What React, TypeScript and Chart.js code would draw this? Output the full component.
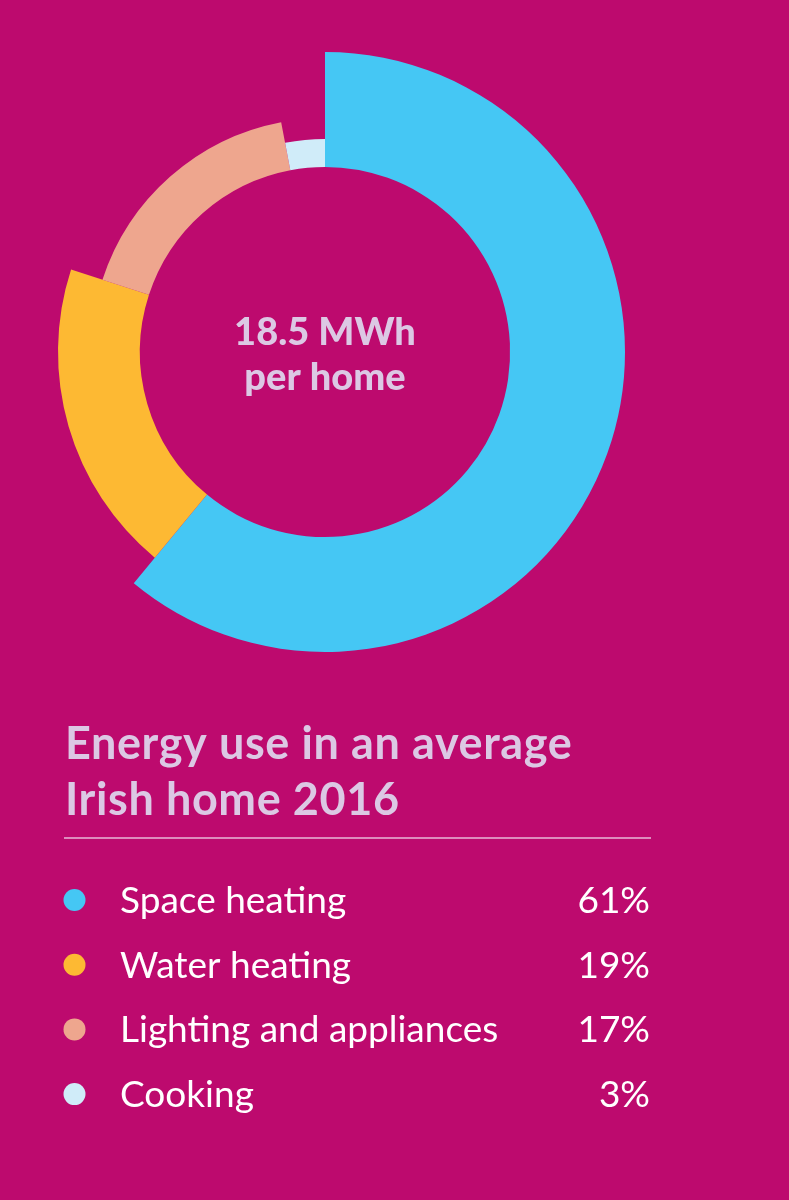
import { useEffect, useRef } from "react";
import { Chart, registerables } from "chart.js";

Chart.register(...registerables);

// ---- data ----
const categories = ["Space heating", "Water heating", "Lighting and appliances", "Cooking"];
const shares = [61, 19, 17, 3];
const shareLabels = ["61%", "19%", "17%", "3%"];
const centerLines = ["18.5 MWh", "per home"];
const titleLines = ["Energy use in an average", "Irish home 2016"];

// ---- styles ----
const BG = "#BD0A6E";
const COLORS = ["#45C7F4", "#FDB933", "#EEA68E", "#D0ECF9"];
const RING_SCALE = [1, 0.89, 0.78, 0.71];
const TITLE_COLOR = "#DCC8E4";
const RULE_COLOR = "#E9B8D8";
const FONT = "Lato, 'Open Sans', sans-serif";

const varRadiusPlugin = {
  id: "varRadius",
  afterDatasetsUpdate(chart: any) {
    const meta = chart.getDatasetMeta(0);
    const base = meta.controller.outerRadius;
    meta.data.forEach((el: any, i: number) => {
      el.outerRadius = base * RING_SCALE[i];
    });
  },
};

const textPlugin = {
  id: "texts",
  afterDraw(chart: any) {
    const ctx = chart.ctx as any;
    const meta = chart.getDatasetMeta(0);
    const arc = meta.data[0];
    const cx = arc.x;
    const cy = arc.y;
    ctx.save();
    ctx.textBaseline = "alphabetic";

    // center label
    ctx.fillStyle = TITLE_COLOR;
    ctx.textAlign = "center";
    ctx.font = `900 38px ${FONT}`;
    ctx.fillText(centerLines[0], cx, cy - 7);
    ctx.fillText(centerLines[1], cx, cy + 38);

    // title
    ctx.textAlign = "left";
    ctx.font = `bold 45px ${FONT}`;
    ctx.letterSpacing = "0.6px";
    ctx.fillText(titleLines[0], 65, 759);
    ctx.fillText(titleLines[1], 65, 815);
    ctx.letterSpacing = "0px";

    // rule
    ctx.strokeStyle = RULE_COLOR;
    ctx.lineWidth = 1.5;
    ctx.beginPath();
    ctx.moveTo(64, 838);
    ctx.lineTo(651, 838);
    ctx.stroke();

    // legend
    categories.forEach((name, i) => {
      const by = 913 + i * 64.7;
      ctx.fillStyle = COLORS[i];
      ctx.beginPath();
      ctx.arc(74.5, by - 13, 11, 0, Math.PI * 2);
      ctx.fill();
      ctx.fillStyle = "#FFFFFF";
      ctx.font = `37px ${FONT}`;
      ctx.textAlign = "left";
      ctx.fillText(name, 120, by);
      ctx.textAlign = "right";
      ctx.fillText(shareLabels[i], 650, by);
    });
    ctx.restore();
  },
};

export default function App() {
  const ref = useRef<HTMLCanvasElement | null>(null);
  useEffect(() => {
    if (!ref.current) return;
    const chart = new Chart(ref.current, {
      type: "doughnut",
      data: {
        labels: categories,
        datasets: [
          {
            data: shares,
            backgroundColor: COLORS,
            borderWidth: 0,
            hoverOffset: 0,
          },
        ],
      },
      options: {
        responsive: false,
        animation: false,
        events: [],
        cutout: "61.7%",
        rotation: 0,
        layout: { padding: { left: 25, top: 52, right: 164, bottom: 548 } },
        plugins: {
          legend: { display: false },
          tooltip: { enabled: false },
          title: { display: false },
        },
      },
      plugins: [varRadiusPlugin, textPlugin],
    });
    return () => chart.destroy();
  }, []);
  return (
    <div style={{ position: "absolute", left: 0, top: 0, width: 789, height: 1200, background: BG }}>
      <canvas ref={ref} width={789} height={1200} style={{ display: "block", width: 789, height: 1200 }} />
    </div>
  );
}
